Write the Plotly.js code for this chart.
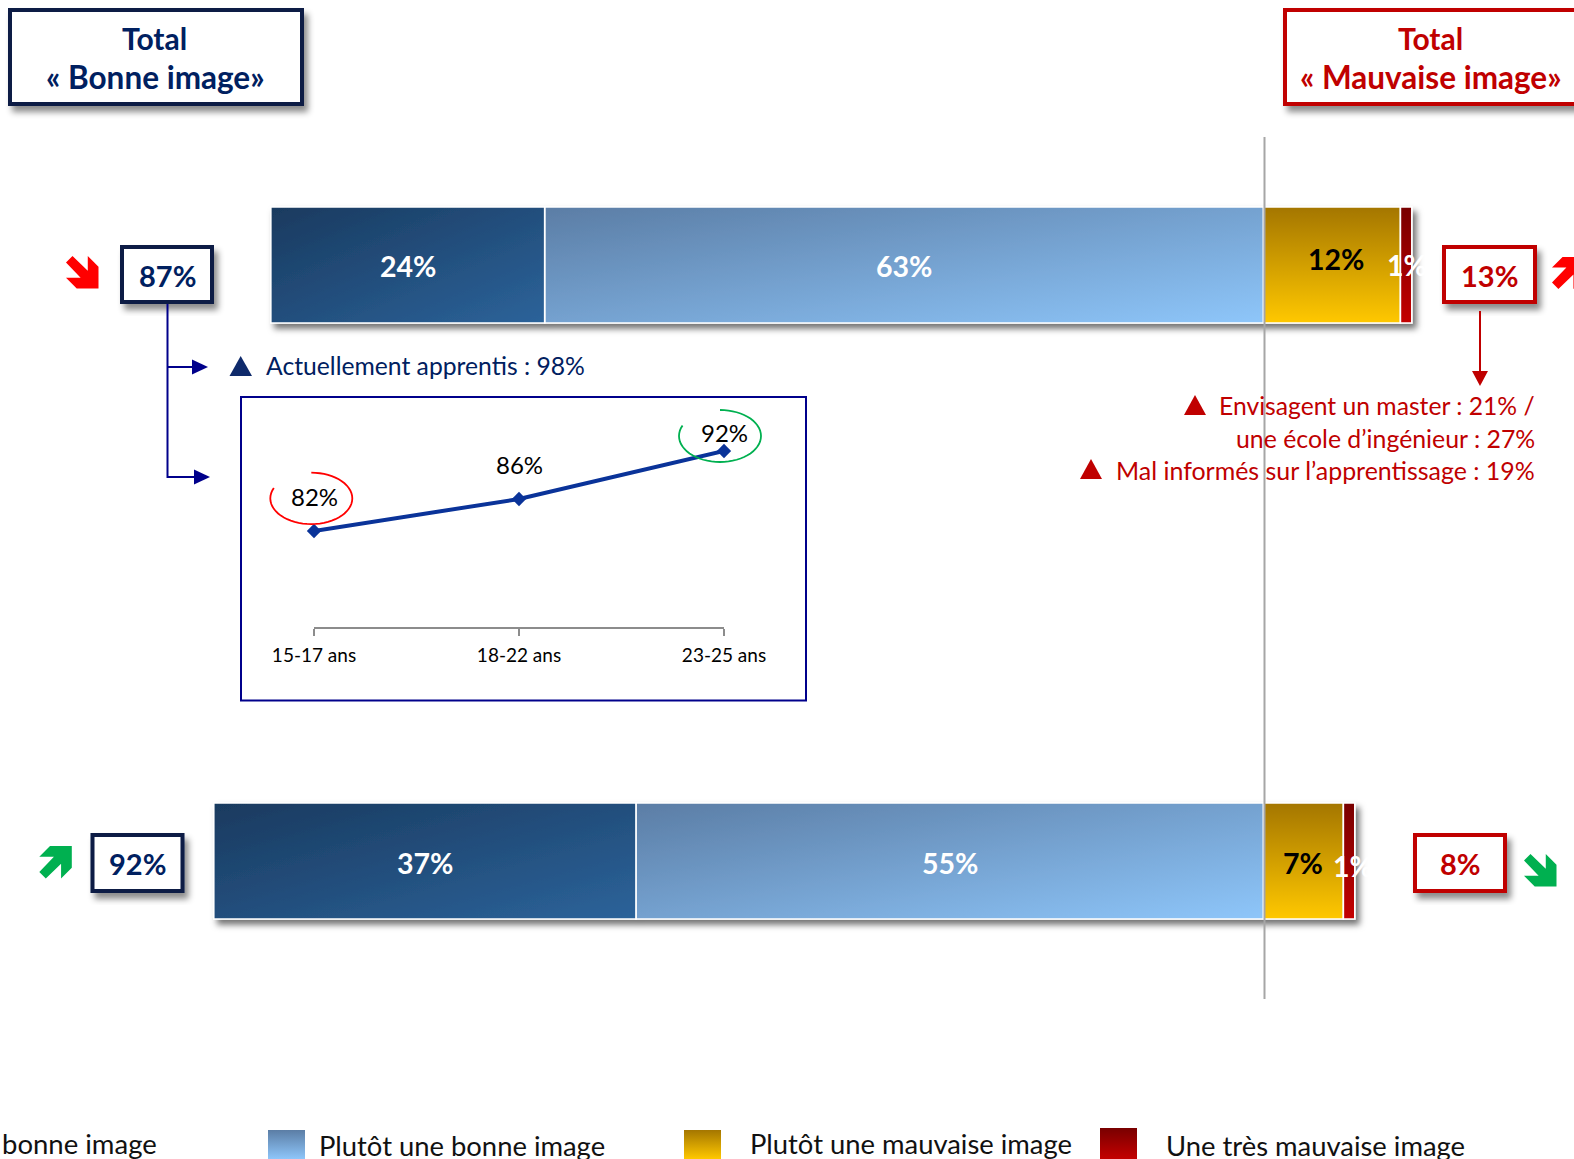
<!DOCTYPE html>
<html>
<head>
<meta charset="utf-8">
<script src="https://cdn.plot.ly/plotly-3.0.1.min.js"></script>
<style>html,body{margin:0;padding:0;background:#fff;overflow:hidden}</style>
</head>
<body>
<div id="chart" style="width:1574px;height:1159px"></div>
<script>
// ---- data
const categories = ['Groupe 1', 'Groupe 2'];
const tresBonne = [24, 37];
const plutotBonne = [63, 55];
const plutotMauvaise = [12, 7];
const tresMauvaise = [1, 1];
const totalBonne = [87, 92];
const totalMauvaise = [13, 8];
const ages = ['15-17 ans', '18-22 ans', '23-25 ans'];
const agesValues = [82, 86, 92];

// ---- page geometry
const W = 1574, H = 1159;
const px = x => x / W, py = y => 1 - y / H;
const NAVY = '#002060', NAVYB = '#0a1a45', RED = '#c00000', BLUE = '#00008b';
const FONT = 'Lato, Carlito, sans-serif';
const ZERO_PX = 1263.5, PX_PER_PCT = 11.41;
const ROW0 = 265, ROW_STEP = 596;

const shapes = [], annotations = [], shadowIdx = [], gradIdx = {};

function ann(text, x, y, size, color, bold, anchor) {
  annotations.push({text, xref: 'paper', yref: 'paper', x: px(x), y: py(y), showarrow: false,
    xanchor: anchor || 'center', yanchor: 'middle', borderpad: 0,
    font: {family: FONT, size, color, weight: bold ? 700 : 400}});
}
function box(x0, y0, x1, y1, col) {
  shadowIdx.push(shapes.length);
  shapes.push({type: 'rect', xref: 'paper', yref: 'paper', x0: px(x0), x1: px(x1), y0: py(y0), y1: py(y1),
    fillcolor: '#fff', line: {color: col, width: 4}, layer: 'above'});
}
function poly(points, col, layer) {
  const d = points.map((p, i) => (i ? 'L' : 'M') + px(p[0]).toFixed(6) + ' ' + py(p[1]).toFixed(6)).join(' ') + ' Z';
  shapes.push({type: 'path', xref: 'paper', yref: 'paper', path: d, fillcolor: col, line: {width: 0}, layer: layer || 'above'});
}
function seg(x0, y0, x1, y1, col, w) {
  shapes.push({type: 'line', xref: 'paper', yref: 'paper', x0: px(x0), x1: px(x1), y0: py(y0), y1: py(y1),
    line: {color: col, width: w}, layer: 'above'});
}
function swatch(x0, y0, x1, y1, grad) {
  gradIdx[shapes.length] = grad;
  shapes.push({type: 'rect', xref: 'paper', yref: 'paper', x0: px(x0), x1: px(x1), y0: py(y0), y1: py(y1),
    fillcolor: '#888', line: {width: 0}, layer: 'above'});
}
const ARROW = [[.2,0],[0,.2],[.45,.67],[0,.67],[.33,1],[1,1],[1,.33],[.67,0],[.67,.45]];
function blockArrow(x, y, s, up, col) {
  poly(ARROW.map(p => [x + p[0] * s, y + (up ? 1 - p[1] : p[1]) * s]), col);
}
function ringArc(cx, cy, rx, ry, a0, a1, col) {
  let d = '';
  for (let a = a0; a <= a1; a += 6) {
    const t = a * Math.PI / 180;
    d += (d ? 'L' : 'M') + px(cx + rx * Math.cos(t)).toFixed(6) + ' ' + py(cy + ry * Math.sin(t)).toFixed(6) + ' ';
  }
  shapes.push({type: 'path', xref: 'paper', yref: 'paper', path: d, line: {color: col, width: 1.8}, layer: 'above'});
}

// headers
box(10, 10, 302, 104, NAVYB);
box(1285, 10, 1592, 104, RED);
ann('Total', 154.5, 38, 30, NAVY, true);
ann('« Bonne image»', 155, 76.5, 31.5, NAVY, true);
ann('Total', 1430.5, 38, 30, RED, true);
ann('« Mauvaise image»', 1431, 76.5, 31.5, RED, true);

// totals boxes, from the total arrays
box(122, 247, 212, 302, NAVYB);
box(1444, 247, 1535, 302, RED);
box(92.5, 835, 182.5, 891, NAVYB);
box(1415, 835, 1505, 891, RED);
ann(totalBonne[0] + '%', 167, 276, 29, NAVY, true);
ann(totalMauvaise[0] + '%', 1489.5, 276, 29, RED, true);
ann(totalBonne[1] + '%', 137.5, 863, 29, NAVY, true);
ann(totalMauvaise[1] + '%', 1460, 863, 29, RED, true);

// trend arrows
blockArrow(66, 256, 32.5, false, '#ff0000');
blockArrow(1552, 257, 32, true, '#ff0000');
blockArrow(39.3, 846, 32.5, true, '#00b050');
blockArrow(1524, 854, 32.5, false, '#00b050');

// left connector
seg(167.5, 304, 167.5, 478, BLUE, 2);
seg(167.5, 367, 195, 367, BLUE, 2);
seg(167.5, 477, 197, 477, BLUE, 2);
poly([[192, 359.5], [208, 367], [192, 374.5]], BLUE);
poly([[194, 469.5], [210, 477], [194, 484.5]], BLUE);

// blue note
poly([[229.5, 376], [252, 376], [240.7, 356]], '#0f2a6b');
ann('Actuellement apprentis : 98%', 265, 365.5, 24.7, NAVY, false, 'left');

// inset frame
shapes.push({type: 'rect', xref: 'paper', yref: 'paper', x0: px(241), x1: px(806), y0: py(397), y1: py(700.5),
  fillcolor: 'rgba(0,0,0,0)', line: {color: BLUE, width: 2}, layer: 'below'});
ringArc(311.3, 498.4, 41, 25.7, 270, 567, '#ff0000');
ringArc(720, 436, 41, 26, 270, 567, '#00b050');

// red notes
seg(1480, 311, 1480, 376, RED, 2);
poly([[1472, 371], [1488, 371], [1480, 386]], RED);
poly([[1184, 415], [1206, 415], [1195, 395]], RED);
poly([[1080, 479], [1102, 479], [1091, 459]], RED);
ann('Envisagent un master : 21% /', 1536, 405, 24.7, RED, false, 'right');
ann('une école d’ingénieur : 27%', 1536, 437.5, 24.85, RED, false, 'right');
ann('Mal informés sur l’apprentissage : 19%', 1536, 469.5, 24.95, RED, false, 'right');

// centre line between the two halves of the bars
shapes.push({type: 'line', xref: 'paper', yref: 'paper', x0: px(1264.5), x1: px(1264.5), y0: py(137), y1: py(999),
  line: {color: '#a6a6a6', width: 2}, layer: 'above'});

// legend
swatch(268, 1130, 305, 1159, 'gMed');
swatch(684, 1130, 721, 1159, 'gGold');
swatch(1100, 1128, 1137, 1159, 'gRed');
ann('bonne image', 1, 1143, 27.5, '#111', false, 'left');
ann('Plutôt une bonne image', 318, 1145, 27.4, '#111', false, 'left');
ann('Plutôt une mauvaise image', 749, 1143, 27.4, '#111', false, 'left');
ann('Une très mauvaise image', 1164.5, 1145, 27.4, '#111', false, 'left');

// value labels on the bars, placed from the values
function barLabel(v, centre, row, col, dx, dy) {
  annotations.push({text: v + '%', xref: 'x', yref: 'y', x: centre, y: row, xshift: dx, yshift: -dy,
    showarrow: false, xanchor: 'center', yanchor: 'middle',
    font: {family: FONT, size: 28.5, color: col, weight: 700}});
}
categories.forEach((c, i) => {
  const a = plutotBonne[i], b = tresBonne[i], g = plutotMauvaise[i], r = tresMauvaise[i];
  barLabel(b, -(a + b / 2), c, '#fff', 0, i ? 2 : 0.5);
  barLabel(a, -(a / 2), c, '#fff', 0, i ? 2 : 0.5);
  barLabel(g, g / 2, c, '#000', i ? 0 : 4, i ? 2 : -6);
  barLabel(r, g + r + 0.1, c, '#fff', i ? -3 : -6, i ? 5 : 0);
});

// inset value labels
const INSET_LABEL_LIFT = [34.5, 34, 18.5];
ages.forEach((a, i) => annotations.push({text: agesValues[i] + '%', xref: 'x2', yref: 'y2', x: a, y: agesValues[i],
  yshift: INSET_LABEL_LIFT[i], showarrow: false, xanchor: 'center', yanchor: 'middle',
  font: {family: FONT, size: 24, color: '#000'}}));

// ---- traces (stack order: nearest the centre line first)
const barTrace = (name, vals, sign, col) => ({type: 'bar', orientation: 'h', name, y: categories,
  x: vals.map(v => sign * v), width: 116 / ROW_STEP, hoverinfo: 'skip',
  marker: {color: col, line: {color: '#fff', width: 1.6}}, xaxis: 'x', yaxis: 'y'});
const traces = [
  barTrace('Plutôt une bonne image', plutotBonne, -1, '#739fd0'),
  barTrace('Une très bonne image', tresBonne, -1, '#234f80'),
  barTrace('Plutôt une mauvaise image', plutotMauvaise, 1, '#d4a000'),
  barTrace('Une très mauvaise image', tresMauvaise, 1, '#a00000'),
  {type: 'scatter', mode: 'lines+markers', x: ages, y: agesValues, xaxis: 'x2', yaxis: 'y2', hoverinfo: 'skip',
   line: {color: '#0a3399', width: 4}, marker: {symbol: 'diamond', size: 11, color: '#0a3399'}, cliponaxis: false}
];

const AXIS2_PX = 626.5;
const layout = {
  width: W, height: H, margin: {l: 0, r: 0, t: 0, b: 0, pad: 0},
  paper_bgcolor: '#fff', plot_bgcolor: 'rgba(0,0,0,0)', showlegend: false, barmode: 'relative', bargap: 0,
  xaxis: {domain: [0, 1], range: [-ZERO_PX / PX_PER_PCT, (W - ZERO_PX) / PX_PER_PCT], visible: false, fixedrange: true},
  yaxis: {domain: [0, 1], type: 'category', categoryorder: 'array', categoryarray: categories,
    range: [(H - ROW0) / ROW_STEP, -ROW0 / ROW_STEP], visible: false, fixedrange: true},
  xaxis2: {domain: [px(314), px(724)], anchor: 'y2', type: 'category', categoryorder: 'array', categoryarray: ages,
    range: [0, 2], showline: true, linecolor: '#8c8c8c', linewidth: 2, ticks: 'outside', ticklen: 7, tickwidth: 2,
    tickcolor: '#8c8c8c', showgrid: false, zeroline: false, ticklabelstandoff: 4, fixedrange: true,
    tickfont: {family: FONT, size: 19, color: '#000'}},
  yaxis2: {domain: [py(AXIS2_PX), py(410)], anchor: 'x2', range: [82 - (AXIS2_PX - 531) / 8, 82 + 121 / 8],
    visible: false, fixedrange: true},
  shapes, annotations
};

const gd = document.getElementById('chart');
Plotly.newPlot(gd, traces, layout, {displayModeBar: false, staticPlot: true}).then(() => {
  const svg = gd.querySelector('.main-svg');
  const defs = svg.querySelector('defs');
  const grad = (id, x2, y2, c0, c1) => `<linearGradient id="${id}" x1="0" y1="0" x2="${x2}" y2="${y2}">
    <stop offset="0" stop-color="${c0}"/><stop offset="1" stop-color="${c1}"/></linearGradient>`;
  const g = document.createElementNS('http://www.w3.org/2000/svg', 'g');
  g.innerHTML = grad('gDark', 1, 1, '#193a5f', '#2c639a') + grad('gMed', 1, 1, '#5b7da5', '#8ec6fa') +
    grad('gMedV', 0, 1, '#5b7da5', '#8ec6fa') +
    grad('gGold', 0, 1, '#a47600', '#ffc800') + grad('gRed', 0, 1, '#780000', '#c40000') +
    `<filter id="barShadow" x="-5%" y="-10%" width="110%" height="130%">
       <feDropShadow dx="4" dy="5" stdDeviation="3" flood-color="#000" flood-opacity="0.55"/></filter>
     <filter id="boxShadow" x="-10%" y="-15%" width="125%" height="140%">
       <feDropShadow dx="4" dy="6" stdDeviation="3" flood-color="#000" flood-opacity="0.45"/></filter>`;
  while (g.firstChild) defs.appendChild(g.firstChild);

  const barFills = ['gMed', 'gDark', 'gGold', 'gRed'];
  gd.querySelectorAll('.barlayer .trace').forEach((t, i) => {
    t.querySelectorAll('path').forEach(p => { p.style.fill = `url(#${barFills[i]})`; });
  });
  const bl = gd.querySelector('.barlayer');
  if (bl) bl.setAttribute('filter', 'url(#barShadow)');

  shadowIdx.forEach(i => gd.querySelectorAll(`.shapelayer path[data-index="${i}"]`)
    .forEach(p => p.setAttribute('filter', 'url(#boxShadow)')));
  Object.keys(gradIdx).forEach(i => gd.querySelectorAll(`.shapelayer path[data-index="${i}"]`)
    .forEach(p => { p.style.fill = `url(#${gradIdx[i] === 'gMed' ? 'gMedV' : gradIdx[i]})`; }));
});
</script>
</body>
</html>
